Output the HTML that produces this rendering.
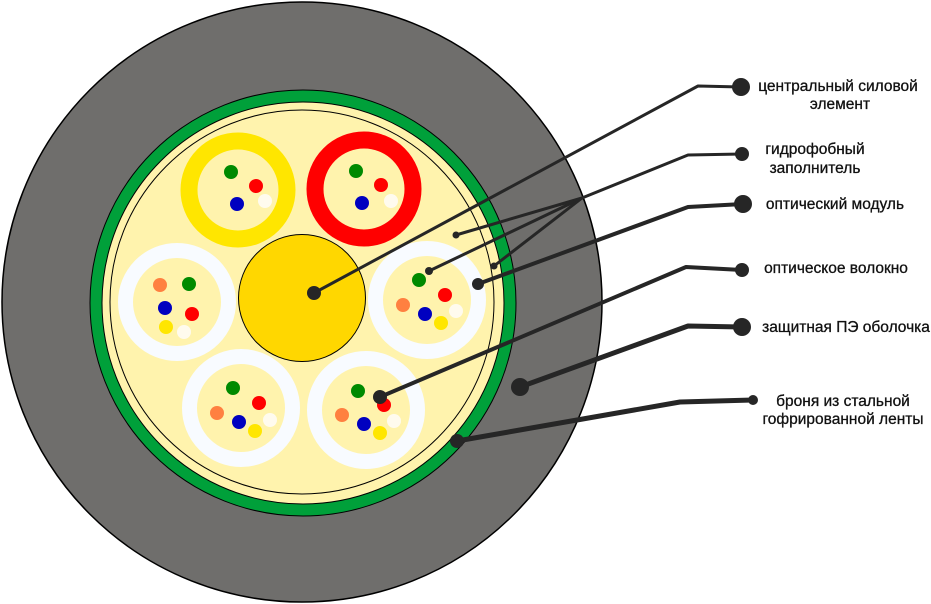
<!DOCTYPE html>
<html><head><meta charset="utf-8"><style>html,body{margin:0;padding:0;background:#fff}svg{display:block}</style></head>
<body>
<svg width="931" height="604" viewBox="0 0 931 604" xmlns="http://www.w3.org/2000/svg">
<circle cx="302" cy="302" r="300" fill="#6f6e6c" stroke="#000" stroke-width="1.5"/>
<circle cx="303" cy="303" r="213" fill="#00a03a" stroke="#000" stroke-width="1"/>
<circle cx="303" cy="303" r="201" fill="#fff3ad" stroke="#000" stroke-width="1"/>
<circle cx="302" cy="302" r="192" fill="#fff3ad" stroke="#000" stroke-width="1"/>
<circle cx="302" cy="298" r="63.5" fill="#ffd700" stroke="#000" stroke-width="1"/>
<g>
<circle cx="238" cy="190" r="49" fill="none" stroke="#ffe600" stroke-width="17"/>
<circle cx="364" cy="189" r="49" fill="none" stroke="#ff0000" stroke-width="17"/>
<circle cx="177" cy="302" r="51.5" fill="none" stroke="#f8fbff" stroke-width="15"/>
<circle cx="427" cy="300" r="51.5" fill="none" stroke="#f8fbff" stroke-width="15"/>
<circle cx="241" cy="408" r="51.5" fill="none" stroke="#f8fbff" stroke-width="15"/>
<circle cx="366" cy="410" r="51.5" fill="none" stroke="#f8fbff" stroke-width="15"/>
</g>
<g>
<circle cx="231" cy="172" r="7" fill="#008a00"/><circle cx="256" cy="186" r="7" fill="#f00"/><circle cx="237" cy="204" r="7" fill="#0000c0"/><circle cx="265" cy="201" r="7" fill="#fffbee"/>
<circle cx="356" cy="171" r="7" fill="#008a00"/><circle cx="381" cy="185" r="7" fill="#f00"/><circle cx="362" cy="203" r="7" fill="#0000c0"/><circle cx="391" cy="201" r="7" fill="#fffbee"/>
<circle cx="160" cy="285" r="7" fill="#ff8040"/><circle cx="189" cy="284" r="7" fill="#008a00"/><circle cx="165" cy="308" r="7" fill="#0000c0"/><circle cx="192" cy="314" r="7" fill="#f00"/><circle cx="166" cy="327" r="7" fill="#ffe600"/><circle cx="184" cy="332" r="7" fill="#fffbee"/>
<circle cx="419" cy="280" r="7" fill="#008a00"/><circle cx="445" cy="295" r="7" fill="#f00"/><circle cx="403" cy="305" r="7" fill="#ff8040"/><circle cx="425" cy="314" r="7" fill="#0000c0"/><circle cx="456" cy="311" r="7" fill="#fffbee"/><circle cx="441" cy="323" r="7" fill="#ffe600"/>
<circle cx="233" cy="388" r="7" fill="#008a00"/><circle cx="259" cy="403" r="7" fill="#f00"/><circle cx="217" cy="413" r="7" fill="#ff8040"/><circle cx="239" cy="422" r="7" fill="#0000c0"/><circle cx="270" cy="420" r="7" fill="#fffbee"/><circle cx="255" cy="431" r="7" fill="#ffe600"/>
<circle cx="358" cy="391" r="7" fill="#008a00"/><circle cx="384" cy="405" r="7" fill="#f00"/><circle cx="342" cy="415" r="7" fill="#ff8040"/><circle cx="364" cy="424" r="7" fill="#0000c0"/><circle cx="394" cy="421" r="7" fill="#fffbee"/><circle cx="380" cy="433" r="7" fill="#ffe600"/>
</g>
<g stroke="#262626" fill="none" stroke-linejoin="round">
<polyline points="314,293 698,86 741,87" stroke-width="3"/>
<polyline points="742,154 688,155 582,198 456,235" stroke-width="3"/>
<polyline points="582,198 429,271" stroke-width="3"/>
<polyline points="582,198 494,266" stroke-width="3"/>
<polyline points="478,284 688,207 743,204" stroke-width="4"/>
<polyline points="380,397 686,267 742,270" stroke-width="4"/>
<polyline points="520,387 688,326 742,327" stroke-width="5"/>
<polyline points="457,441 680,402 753,400" stroke-width="5"/>
</g>
<g fill="#262626">
<circle cx="314" cy="293" r="7"/><circle cx="741" cy="87" r="9"/>
<circle cx="742" cy="154" r="7"/><circle cx="456" cy="235" r="3.5"/><circle cx="429" cy="271" r="4"/><circle cx="494" cy="266" r="3.5"/>
<circle cx="743" cy="204" r="9"/><circle cx="478" cy="284" r="6"/>
<circle cx="742" cy="270" r="7"/><circle cx="380" cy="397" r="7"/>
<circle cx="742" cy="327" r="9"/><circle cx="520" cy="387" r="9"/>
<circle cx="753" cy="400" r="5"/><circle cx="457" cy="441" r="7"/>
</g>
<g font-family="Liberation Sans, sans-serif" font-size="15.5" fill="#111" stroke="#111" stroke-width="0.3">
<text x="838" y="91" text-anchor="middle">центральный силовой</text>
<text x="840" y="109" text-anchor="middle">элемент</text>
<text x="815" y="154" text-anchor="middle">гидрофобный</text>
<text x="815" y="173" text-anchor="middle">заполнитель</text>
<text x="835" y="209" text-anchor="middle">оптический модуль</text>
<text x="836" y="273" text-anchor="middle">оптическое волокно</text>
<text x="846" y="332" text-anchor="middle">защитная ПЭ оболочка</text>
<text x="843" y="406" text-anchor="middle">броня из стальной</text>
<text x="843" y="424" text-anchor="middle">гофрированной ленты</text>
</g>
</svg>
</body></html>
